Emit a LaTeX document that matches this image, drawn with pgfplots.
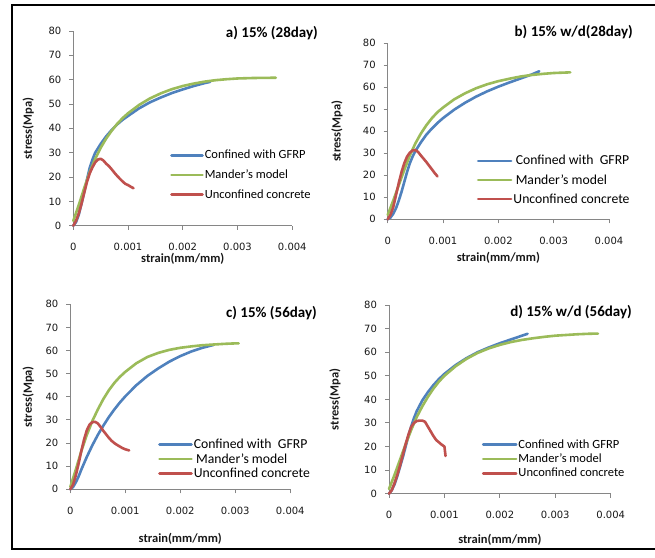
\documentclass[border=0pt]{standalone}
\usepackage{pgfplots}
\pgfplotsset{compat=1.18}
\usepackage{fontspec}
\setmainfont{Carlito}
\newfontfamily\tickfont{DejaVu Sans}
\definecolor{cblue}{HTML}{4F81BD}
\definecolor{cgreen}{HTML}{9BBB59}
\definecolor{cred}{HTML}{C0504D}
\definecolor{axgray}{HTML}{868686}
\pgfplotsset{
  panel/.style={
    scale only axis, anchor=south west, clip=false,
    xmin=0, xmax=0.004, ymin=0, ymax=80,
    axis lines=left, axis line style={-, draw=axgray, line width=0.9pt},
    tick align=outside, major tick length=4pt,
    tick style={draw=axgray, line width=0.9pt},
    xtick={0,0.001,0.002,0.003,0.004},
    xticklabels={0,0.001,0.002,0.003,0.004},
    ytick={0,10,20,30,40,50,60,70,80},
    yticklabels={0,10,20,30,40,50,60,70,80},
    scaled x ticks=false,
    ticklabel style={font=\tickfont\fontsize{10}{12}\selectfont, text=black!90},
    xticklabel style={yshift=-10pt},
    yticklabel style={xshift=-4.5pt},
    xlabel={strain(mm/mm)}, ylabel={stress(Mpa)},
    label style={font=\bfseries\fontsize{12.5}{14}\selectfont, text=black!90},
    legend style={draw=none, fill=none, inner sep=0pt, anchor=west,
      font=\fontsize{12.5}{14}\selectfont, cells={anchor=west},
      nodes={inner sep=1pt}},
    legend image code/.code={\draw[##1, line width=2.6pt] (0pt,0pt) -- (\pgfkeysvalueof{/pgfplots/leglen},0pt);},
    leglen/.initial=31pt,
    every axis plot/.append style={line width=2.6pt, line join=round, line cap=round},
  }
}
\begin{document}
\begin{tikzpicture}
\useasboundingbox (0pt,0pt) rectangle (655pt,-557pt);
\fill[white] (0pt,0pt) rectangle (655pt,-557pt);
\draw[line width=2pt] (656pt,-5pt) -- (12pt,-5pt) -- (12pt,-549pt) -- (656pt,-549pt);

% ---------- a ----------
\begin{axis}[panel, at={(73.3pt,-225.7pt)}, width=219pt, height=194.7pt,
  xlabel style={at={(axis description cs:0.5,-0.172)}, anchor=center},
  ylabel style={at={(axis description cs:-0.2055,0.5)}, anchor=center},
  legend style={at={(axis description cs:0.4416,0.2604)}, row sep=7.5pt}]
\addplot[cblue] coordinates {(0,0) (0.00005,1.5) (0.0001,4.5) (0.00015,9) (0.0002,14) (0.00025,19) (0.0003,23.8) (0.00035,27.2) (0.0004,30) (0.0005,33.6) (0.0006,36.7) (0.0007,39.3) (0.0008,41.6) (0.0009,43.5) (0.001,45.1) (0.0012,48.2) (0.0014,50.7) (0.0016,52.7) (0.0018,54.5) (0.002,56) (0.0022,57.4) (0.0024,58.6) (0.0025,59.1)};
\addplot[cgreen] coordinates {(0,2) (0.0001,8.5) (0.0002,15.5) (0.0003,22) (0.0004,27.5) (0.0005,32) (0.0006,35.8) (0.0007,39) (0.0008,41.8) (0.0009,44.2) (0.001,46.2) (0.0012,49.6) (0.0014,52.3) (0.0016,54.4) (0.0018,56.1) (0.002,57.4) (0.0022,58.4) (0.0024,59.2) (0.0026,59.8) (0.0028,60.2) (0.003,60.5) (0.0033,60.7) (0.0037,60.8)};
\addplot[cred] coordinates {(0,0) (0.00005,2) (0.0001,5) (0.00015,9) (0.0002,13.5) (0.00025,18) (0.0003,21.5) (0.00035,24) (0.0004,26) (0.00045,27.2) (0.0005,27.5) (0.00055,26.8) (0.0006,25.5) (0.00065,24.5) (0.0007,23.2) (0.00075,21.8) (0.0008,20.5) (0.00085,19.3) (0.0009,18.2) (0.00095,17.2) (0.001,16.7) (0.00105,16) (0.0011,15.4)};
\legend{Confined with GFRP,Mander's model,Unconfined concrete}
\end{axis}

% ---------- b ----------
\begin{axis}[panel, at={(387.7pt,-219.3pt)}, width=221.3pt, height=176pt,
  xlabel style={at={(axis description cs:0.5,-0.2216)}, anchor=center},
  ylabel style={at={(axis description cs:-0.229,0.5)}, anchor=center},
  legend style={at={(axis description cs:0.402,0.2233)}, row sep=6pt,
    font=\fontsize{13.7}{15}\selectfont},
  leglen=33pt]
\addplot[cblue] coordinates {(0,0) (0.00005,0.8) (0.0001,2.5) (0.00015,5) (0.0002,8.5) (0.00025,12.5) (0.0003,17) (0.00035,21.5) (0.0004,25.5) (0.00045,28.5) (0.0005,31) (0.0006,35) (0.0007,38.5) (0.0008,41.3) (0.0009,43.8) (0.001,46) (0.0012,49.8) (0.0014,53) (0.0016,55.8) (0.0018,58.2) (0.002,60.3) (0.0022,62.2) (0.0024,64) (0.0026,65.8) (0.00274,67.3)};
\addplot[cgreen] coordinates {(0,2) (0.0001,8.5) (0.0002,15.5) (0.0003,22.5) (0.0004,29) (0.0005,34.5) (0.0006,39) (0.0007,42.8) (0.0008,46) (0.0009,48.7) (0.001,50.8) (0.0012,54.5) (0.0014,57.3) (0.0016,59.6) (0.0018,61.4) (0.002,62.8) (0.0022,63.9) (0.0024,64.9) (0.0026,65.6) (0.0028,66.1) (0.003,66.5) (0.0033,66.8)};
\addplot[cred] coordinates {(0,0) (0.00005,2) (0.0001,5.5) (0.00015,11) (0.0002,16.5) (0.00025,21.5) (0.0003,25.5) (0.00035,28.5) (0.0004,30.3) (0.00045,31.3) (0.0005,31.5) (0.00055,30.6) (0.0006,29) (0.00065,27.5) (0.0007,26) (0.00075,24.3) (0.0008,22.7) (0.00085,21) (0.0009,19.5)};
\legend{{\,Confined with\ \ GFRP},{\,Mander's model},Unconfined concrete}
\end{axis}

% ---------- c ----------
\begin{axis}[panel, at={(70.3pt,-489.3pt)}, width=220pt, height=185pt,
  xlabel style={at={(axis description cs:0.5,-0.265)}, anchor=center},
  ylabel style={at={(axis description cs:-0.191,0.5)}, anchor=center},
  legend style={at={(axis description cs:0.3986,0.1638)}, row sep=1.5pt,
    font=\fontsize{13.7}{15}\selectfont},
  leglen=32pt]
\addplot[cblue] coordinates {(0,0) (0.00005,1) (0.0001,3) (0.00015,5.5) (0.0002,8.5) (0.0003,14) (0.0004,19) (0.0005,23.5) (0.0006,27.5) (0.0007,31.2) (0.0008,34.5) (0.0009,37.5) (0.001,40.2) (0.0012,45) (0.0014,49) (0.0016,52.3) (0.0018,55.2) (0.002,57.6) (0.0022,59.6) (0.0024,61.2) (0.0026,62.4)};
\addplot[cgreen] coordinates {(0,1) (0.0001,8.5) (0.0002,16.5) (0.0003,23.5) (0.0004,29.5) (0.0005,34.5) (0.0006,39) (0.0007,42.8) (0.0008,46) (0.0009,48.6) (0.001,50.8) (0.0012,54.5) (0.0014,57.2) (0.0016,59) (0.0018,60.3) (0.002,61.2) (0.0022,61.8) (0.0024,62.3) (0.0026,62.6) (0.0028,62.9) (0.003,63.1) (0.00306,63.1)};
\addplot[cred] coordinates {(0,0) (0.00005,2) (0.0001,6) (0.00015,11) (0.0002,16.5) (0.00025,21.5) (0.0003,25.5) (0.00035,28) (0.0004,29) (0.00045,29.2) (0.0005,28.5) (0.00055,27) (0.0006,25.3) (0.00065,23.8) (0.0007,22.3) (0.00075,21) (0.0008,20) (0.00085,19.2) (0.0009,18.5) (0.00095,17.8) (0.001,17.3) (0.00107,16.8)};
\legend{{Confined with\ \ GFRP},{\,Mander's model},Unconfined concrete}
\end{axis}

% ---------- d ----------
\begin{axis}[panel, at={(389pt,-493.7pt)}, width=221.7pt, height=188.7pt,
  xlabel style={at={(axis description cs:0.5,-0.2438)}, anchor=center},
  ylabel style={at={(axis description cs:-0.2436,0.5)}, anchor=center},
  legend style={at={(axis description cs:0.418,0.1839)}, row sep=2pt},
  leglen=33pt]
\addplot[cblue] coordinates {(0,0) (0.00005,1.5) (0.0001,4) (0.00015,7.5) (0.0002,11.5) (0.00025,15.5) (0.0003,20) (0.00035,24.5) (0.0004,28.5) (0.00045,32) (0.0005,35) (0.0006,39.5) (0.0007,43) (0.0008,46) (0.0009,48.6) (0.001,50.8) (0.0012,54.5) (0.0014,57.5) (0.0016,60) (0.0018,62) (0.002,63.8) (0.0022,65.4) (0.0024,67) (0.0025,67.8)};
\addplot[cgreen] coordinates {(0,2) (0.0001,8) (0.0002,14.5) (0.0003,21) (0.0004,27) (0.0005,32.5) (0.0006,37) (0.0007,41) (0.0008,44.5) (0.0009,47.5) (0.001,50) (0.0012,54) (0.0014,57.2) (0.0016,59.7) (0.0018,61.6) (0.002,63.1) (0.0022,64.3) (0.0024,65.2) (0.0026,65.9) (0.0028,66.5) (0.003,67) (0.0032,67.3) (0.0034,67.6) (0.0036,67.8) (0.00377,67.9)};
\addplot[cred] coordinates {(0,0) (0.00005,1.5) (0.0001,4.5) (0.00015,8) (0.0002,12) (0.00025,16.5) (0.0003,21) (0.00035,25) (0.0004,28.3) (0.00045,30) (0.0005,30.8) (0.00055,31) (0.0006,31) (0.00065,30.5) (0.0007,28.5) (0.00075,26.5) (0.0008,24.5) (0.00085,22.8) (0.0009,21.8) (0.00095,20.8) (0.001,20) (0.00101,18) (0.00102,16)};
\legend{Confined with GFRP,Mander's model,Unconfined concrete}
\end{axis}

% titles
\node[anchor=east, font=\bfseries\fontsize{15}{17}\selectfont, inner sep=0pt] at (318pt,-33pt) {a) 15\% (28day)};
\node[anchor=east, font=\bfseries\fontsize{15}{17}\selectfont, inner sep=0pt] at (633pt,-32pt) {b) 15\% w/d(28day)};
\node[anchor=east, font=\bfseries\fontsize{15}{17}\selectfont, inner sep=0pt] at (317pt,-313pt) {c) 15\% (56day)};
\node[anchor=east, font=\bfseries\fontsize{15}{17}\selectfont, inner sep=0pt] at (632pt,-312pt) {d) 15\% w/d (56day)};
\end{tikzpicture}
\end{document}
